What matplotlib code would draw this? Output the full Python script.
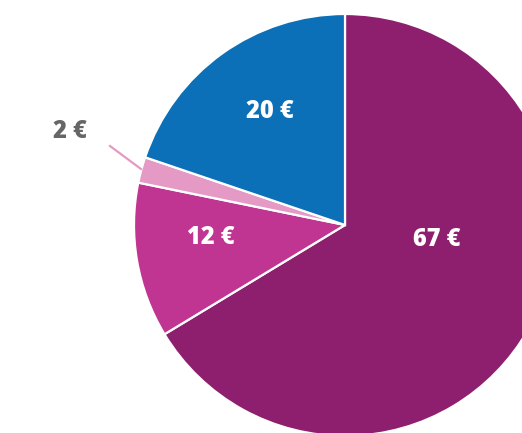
import matplotlib.pyplot as plt

values = [67, 12, 2, 20]
labels = ['67 €', '12 €', '2 €', '20 €']
colors = ['#8E1F6F', '#C13592', '#E49AC4', '#0B70B7']

plt.rcParams['font.family'] = ['Open Sans', 'DejaVu Sans']

fig = plt.figure(figsize=(5.22, 4.33), dpi=100)
ax = fig.add_axes([0, 0, 1, 1])

# pie center / radius in pixel space (chart is cropped on right and bottom)
cx, cy, r = 345, 433 - 225, 211
ax.pie(values, colors=colors, startangle=90, counterclock=False,
       center=(cx, cy), radius=r, frame=True,
       wedgeprops=dict(edgecolor='white', linewidth=1.6))
ax.set_xlim(0, 522)
ax.set_ylim(0, 433)
ax.set_aspect('equal')
ax.axis('off')

# inside labels
pos = {'67 €': (437, 240), '12 €': (211, 237), '20 €': (270, 112)}
for lab, (x, y) in pos.items():
    ax.text(x, 433 - y, lab, color='white', fontsize=17, fontweight=800,
            ha='center', va='center')

# small slice label with leader line
ax.plot([110, 141], [433 - 146, 433 - 169], color='#E49AC4', lw=1.6)
ax.text(70, 433 - 131, '2 €', color='#666666', fontsize=17, fontweight=800,
        ha='center', va='center')

fig.savefig('out.png', dpi=100)
